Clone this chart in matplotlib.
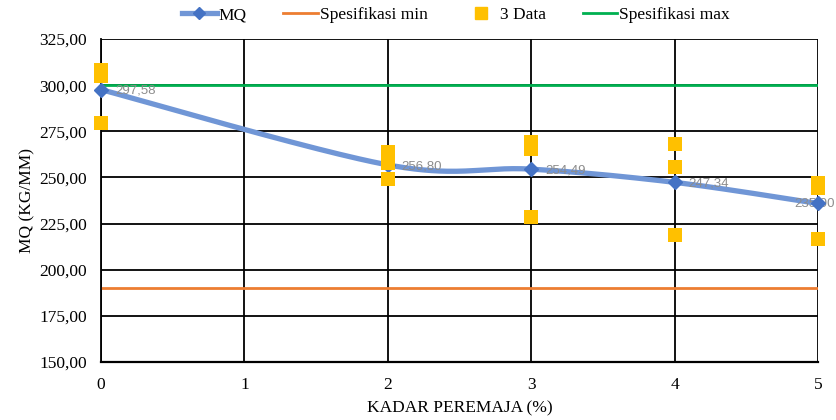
import numpy as np
import matplotlib
matplotlib.use("Agg")
import matplotlib.pyplot as plt
from matplotlib.lines import Line2D

plt.rcParams['font.family'] = ['Liberation Serif', 'DejaVu Serif']

# Data
kadar = [0, 2, 3, 4, 5]
mq = [297.58, 256.80, 254.49, 247.34, 235.90]
data_x = [0, 0, 0, 2, 2, 2, 3, 3, 3, 4, 4, 4, 5, 5, 5]
data_y = [308.4, 304.7, 279.6, 263.6, 257.9, 248.9,
          269.4, 265.5, 228.6, 268.0, 255.4, 218.6, 246.8, 244.3, 216.6]
spec_min = 190
spec_max = 300
x_ticks = [0, 1, 2, 3, 4, 5]
y_ticks = [150, 175, 200, 225, 250, 275, 300, 325]


def smooth_curve(xs, ys, n=60):
    """Bezier smoothing through the points (Catmull-Rom style control points)."""
    xs = np.asarray(xs, float)
    ys = np.asarray(ys, float)
    P = np.column_stack([xs, ys])
    out = []
    for i in range(len(P) - 1):
        p0 = P[i - 1] if i > 0 else P[i]
        p1 = P[i]
        p2 = P[i + 1]
        p3 = P[i + 2] if i + 2 < len(P) else P[i + 1]
        c1 = p1 + (p2 - p0) / 6.0
        c2 = p2 - (p3 - p1) / 6.0
        t = np.linspace(0, 1, n)[:, None]
        seg = ((1 - t) ** 3) * p1 + 3 * ((1 - t) ** 2) * t * c1 + 3 * (1 - t) * t ** 2 * c2 + t ** 3 * p2
        out.append(seg if i == 0 else seg[1:])
    pts = np.vstack(out)
    return pts[:, 0], pts[:, 1]


fig = plt.figure(figsize=(8.36, 4.2), dpi=100)
ax = fig.add_axes([101 / 836, 1 - 362 / 420, 717 / 836, 323 / 420])

ax.set_xlim(0, 5)
ax.set_ylim(150, 325)
ax.set_xticks(x_ticks)
ax.set_yticks(y_ticks)
ax.set_yticklabels([f"{v:.2f}".replace('.', ',') for v in y_ticks])
ax.grid(True, color='black', linewidth=1.3, zorder=0)
ax.set_axisbelow(True)
for s in ['top', 'right']:
    ax.spines[s].set_visible(False)
ax.spines['left'].set_linewidth(1.3)
ax.spines['bottom'].set_linewidth(1.6)
ax.tick_params(length=0, labelsize=12.5)
ax.tick_params(axis='x', pad=11)
ax.tick_params(axis='y', pad=10)

# specification limits
ax.axhline(spec_min, color='#ED7D31', linewidth=2, zorder=2)
ax.axhline(spec_max, color='#00B050', linewidth=2, zorder=2)

# MQ smoothed line
sx, sy = smooth_curve(kadar, mq)
ax.plot(sx, sy, color='#7096D6', linewidth=3.8, zorder=3, solid_capstyle='round', clip_on=False)
ax.plot(kadar, mq, linestyle='none', marker='D', markersize=7, color='#4472C4', zorder=4, clip_on=False)

# individual samples
ax.scatter(data_x, data_y, marker='s', s=90, color='#FFC000', zorder=5, clip_on=False, linewidths=0)

for x, y in zip(kadar, mq):
    last = x == kadar[-1]
    ax.annotate(f"{y:.2f}".replace('.', ','), (x, y),
                xytext=(-2.5, 0) if last else (10, -1), textcoords='offset points',
                fontsize=9.5, color='#8C8C8C', family=['Liberation Sans', 'DejaVu Sans'],
                va='center', ha='center' if last else 'left', zorder=3.5, annotation_clip=False)

ax.set_xlabel('KADAR PEREMAJA (%)', fontsize=12.5, labelpad=5)
ax.set_ylabel('MQ (KG/MM)', fontsize=12.5, labelpad=3)

handles = [
    Line2D([], [], color='#7096D6', linewidth=3.8, marker='D', markersize=6,
           markerfacecolor='#4472C4', markeredgecolor='#4472C4'),
    Line2D([], [], color='#ED7D31', linewidth=2),
    Line2D([], [], linestyle='none', marker='s', markersize=8, color='#FFC000'),
    Line2D([], [], color='#00B050', linewidth=2),
]
fig.legend(handles, ['MQ', 'Spesifikasi min', '3 Data', 'Spesifikasi max'],
           loc='center', bbox_to_anchor=(456 / 836, 1 - 15 / 420), ncol=4, frameon=False,
           fontsize=12.5, handlelength=2.0, handletextpad=0.1, columnspacing=2.1)

fig.savefig('out.png', dpi=100)
